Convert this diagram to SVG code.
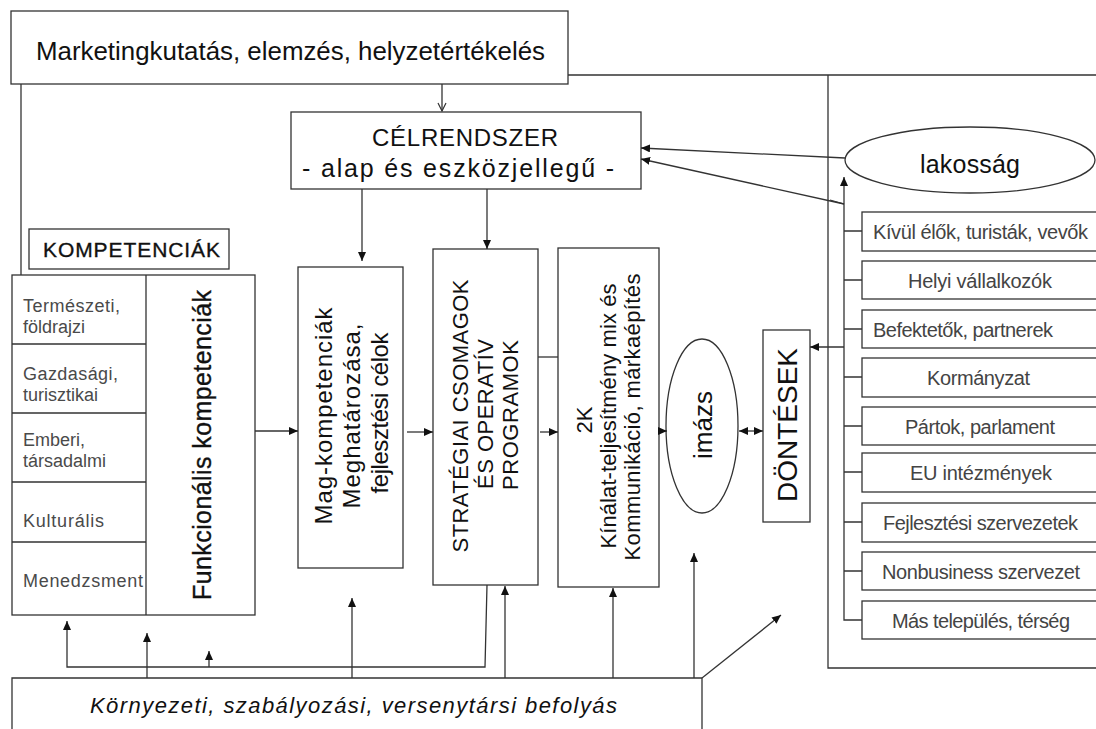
<svg xmlns="http://www.w3.org/2000/svg" width="1096" height="729" viewBox="0 0 1096 729">
<style>
text{font-family:"Liberation Sans",Arial,sans-serif;fill:#111}
.box{fill:#fff;stroke:#333;stroke-width:1.3}
.ln{fill:none;stroke:#333;stroke-width:1.3}
.cell{font-size:18px;fill:#4a4a4a}
.stk{font-size:20px;fill:#444}
.heavy{stroke:#111;stroke-width:0.35}
.arr{marker-end:url(#ah)}
</style>
<defs>
<marker id="ah" markerUnits="userSpaceOnUse" markerWidth="9" markerHeight="8" refX="9" refY="4" orient="auto-start-reverse" viewBox="0 0 9 8"><path d="M0,0 L9,4 L0,8 z" fill="#111"/></marker>
<marker id="av" markerUnits="userSpaceOnUse" markerWidth="10" markerHeight="10" refX="9" refY="5" orient="auto" viewBox="0 0 10 10"><path d="M1,1 L9,5 L1,9" fill="none" stroke="#333" stroke-width="1.2"/></marker>
</defs>
<rect width="1096" height="729" fill="#fff"/>

<g id="marketing">
<rect class="box" x="11" y="11" width="557" height="73"/>
<text x="36" y="60" font-size="25" textLength="509" lengthAdjust="spacingAndGlyphs">Marketingkutatás, elemzés, helyzetértékelés</text>
</g>

<g id="celrendszer">
<rect class="box" x="291" y="112" width="350" height="77"/>
<text x="465" y="146" font-size="24" text-anchor="middle" textLength="186" lengthAdjust="spacing">CÉLRENDSZER</text>
<text x="302" y="177" font-size="25" textLength="312" lengthAdjust="spacing">- alap és eszközjellegű -</text>
</g>

<g id="stakeholder-panel">
<path class="ln" d="M568,75 H1096 M828,75 V668 H1096"/>
</g>

<g id="lakossag">
<ellipse cx="970" cy="160" rx="125" ry="33" fill="#fff" stroke="#333" stroke-width="1.3"/>
<text x="970" y="173" font-size="25" text-anchor="middle" textLength="100" lengthAdjust="spacing">lakosság</text>
</g>

<g id="kompetenciak-title">
<rect class="box" x="29" y="229" width="200" height="40"/>
<text class="heavy" x="43" y="257" font-size="21" textLength="177" lengthAdjust="spacing">KOMPETENCIÁK</text>
</g>

<g id="kompetenciak-table">
<rect class="box" x="12" y="275" width="243" height="340"/>
<path class="ln" d="M146,275 V615 M12,344 H146 M12,413 H146 M12,482 H146 M12,542 H146"/>
<text class="cell" x="23" y="312" textLength="97" lengthAdjust="spacing">Természeti,</text>
<text class="cell" x="23" y="333">földrajzi</text>
<text class="cell" x="23" y="380" textLength="95" lengthAdjust="spacing">Gazdasági,</text>
<text class="cell" x="23" y="401">turisztikai</text>
<text class="cell" x="23" y="446">Emberi,</text>
<text class="cell" x="23" y="467">társadalmi</text>
<text class="cell" x="23" y="527" textLength="81" lengthAdjust="spacing">Kulturális</text>
<text class="cell" x="23" y="587" textLength="120" lengthAdjust="spacing">Menedzsment</text>
<text class="heavy" transform="translate(211,445) rotate(-90)" font-size="25" text-anchor="middle" textLength="310" lengthAdjust="spacing">Funkcionális kompetenciák</text>
</g>

<g id="mag">
<rect class="box" x="298" y="267" width="105" height="301"/>
<text transform="translate(332,416) rotate(-90)" font-size="24" text-anchor="middle" textLength="217" lengthAdjust="spacing">Mag-kompetenciák</text>
<text transform="translate(360,416) rotate(-90)" font-size="24" text-anchor="middle" textLength="185" lengthAdjust="spacing">Meghatározása,</text>
<text transform="translate(388,413) rotate(-90)" font-size="24" text-anchor="middle" textLength="161" lengthAdjust="spacing">fejlesztési célok</text>
</g>

<g id="strategiai">
<rect class="box" x="433" y="249" width="105" height="336"/>
<text transform="translate(468,416) rotate(-90)" font-size="22" text-anchor="middle" textLength="273" lengthAdjust="spacing">STRATÉGIAI CSOMAGOK</text>
<text transform="translate(493,414) rotate(-90)" font-size="22" text-anchor="middle" textLength="150" lengthAdjust="spacing">ÉS OPERATÍV</text>
<text transform="translate(518,415) rotate(-90)" font-size="22" text-anchor="middle" textLength="150" lengthAdjust="spacing">PROGRAMOK</text>
</g>

<g id="ketK">
<rect class="box" x="558" y="248" width="101" height="339"/>
<text transform="translate(592,420) rotate(-90)" font-size="22" text-anchor="middle">2K</text>
<text transform="translate(616,416) rotate(-90)" font-size="22" text-anchor="middle" textLength="265" lengthAdjust="spacing">Kínálat-teljesítmény mix és</text>
<text transform="translate(640,417) rotate(-90)" font-size="22" text-anchor="middle" textLength="287" lengthAdjust="spacing">Kommunikáció, márkaépítés</text>
</g>

<g id="imazs">
<ellipse cx="702" cy="426" rx="36" ry="87" fill="#fff" stroke="#333" stroke-width="1.3"/>
<text transform="translate(712,425) rotate(-90)" font-size="26" text-anchor="middle">imázs</text>
</g>

<g id="dontesek">
<rect class="box" x="763" y="330" width="47" height="192"/>
<text transform="translate(797,425) rotate(-90)" font-size="28" text-anchor="middle" textLength="154" lengthAdjust="spacing">DÖNTÉSEK</text>
</g>

<g id="stakeholders">
<g id="s1"><rect class="box" x="862" y="212" width="240" height="39"/><text class="stk" x="873" y="239" textLength="215" lengthAdjust="spacing">Kívül élők, turisták, vevők</text></g>
<g id="s2"><rect class="box" x="862" y="261" width="240" height="38"/><text class="stk" x="908" y="288" textLength="144" lengthAdjust="spacing">Helyi vállalkozók</text></g>
<g id="s3"><rect class="box" x="862" y="310" width="240" height="38"/><text class="stk" x="873" y="337" textLength="180" lengthAdjust="spacing">Befektetők, partnerek</text></g>
<g id="s4"><rect class="box" x="862" y="358" width="240" height="39"/><text class="stk" x="927" y="385" textLength="103" lengthAdjust="spacing">Kormányzat</text></g>
<g id="s5"><rect class="box" x="862" y="407" width="240" height="38"/><text class="stk" x="905" y="434" textLength="150" lengthAdjust="spacing">Pártok, parlament</text></g>
<g id="s6"><rect class="box" x="862" y="453" width="240" height="39"/><text class="stk" x="910" y="480" textLength="142" lengthAdjust="spacing">EU intézmények</text></g>
<g id="s7"><rect class="box" x="862" y="503" width="240" height="39"/><text class="stk" x="883" y="530" textLength="195" lengthAdjust="spacing">Fejlesztési szervezetek</text></g>
<g id="s8"><rect class="box" x="862" y="552" width="240" height="38"/><text class="stk" x="882" y="579" textLength="198" lengthAdjust="spacing">Nonbusiness szervezet</text></g>
<g id="s9"><rect class="box" x="862" y="601" width="240" height="38"/><text class="stk" x="892" y="628" textLength="178" lengthAdjust="spacing">Más település, térség</text></g>
</g>

<g id="kornyezeti">
<path class="ln" d="M12,729 V678 H702 V729"/>
<text x="90" y="713" font-size="22" font-style="italic" textLength="527" lengthAdjust="spacing">Környezeti, szabályozási, versenytársi befolyás</text>
</g>

<g id="connectors">
<path class="ln" d="M442,84 V111" marker-end="url(#av)"/>
<path class="ln arr" d="M362,189 V261"/>
<path class="ln arr" d="M487,189 V249"/>
<path class="ln arr" d="M845,158 L641,148"/>
<path class="ln arr" d="M844,204 L641,159"/>
<path class="ln" d="M830,200 L844,204"/>
<path class="ln arr" d="M862,620 H844 V177"/>
<path class="ln" d="M844,231 H862 M844,280 H862 M844,329 H862 M844,377 H862 M844,426 H862 M844,472 H862 M844,522 H862 M844,571 H862"/>
<path class="ln arr" d="M844,347 H810"/>
<path class="ln" d="M21,84 V275"/>
<path class="ln arr" d="M255,431 H298"/>
<path class="ln arr" d="M407,432 H433"/>
<path class="ln arr" d="M540,432 H558"/>
<path class="ln" d="M538,357 H558"/>
<path class="ln arr" d="M659,431 H667"/>
<path class="ln arr" d="M739,431 H763" marker-start="url(#ah)"/>
<path class="ln arr" d="M487,585 L485,667 H67 V621"/>
<path class="ln arr" d="M209,667 V651"/>
<path class="ln arr" d="M147,678 V633"/>
<path class="ln arr" d="M352,678 V598"/>
<path class="ln arr" d="M505,678 V586"/>
<path class="ln arr" d="M613,678 V588"/>
<path class="ln arr" d="M694,678 V553"/>
<path class="ln arr" d="M702,678 L781,615"/>
</g>
</svg>
